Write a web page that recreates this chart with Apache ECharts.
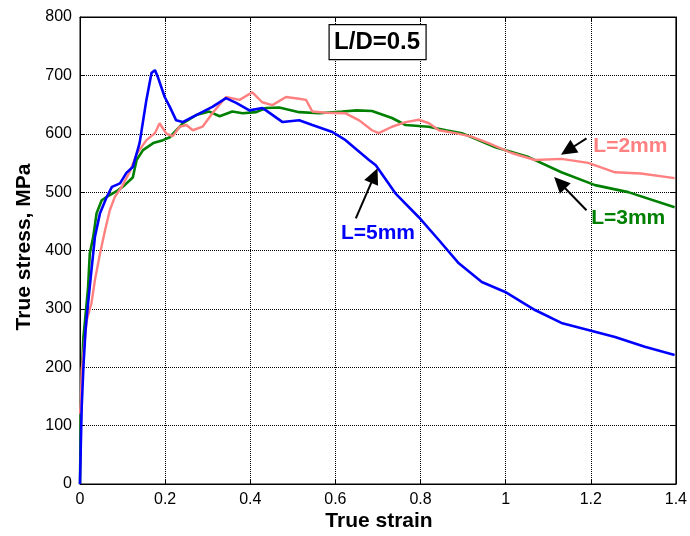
<!DOCTYPE html>
<html><head><meta charset="utf-8">
<script src="https://cdn.jsdelivr.net/npm/echarts/dist/echarts.min.js"></script>
<style>html,body{margin:0;padding:0;background:#fff}#c{width:690px;height:536px}</style>
</head><body><div id="c"></div>
<script>
// ---- data ----
const xTicks = [0, 0.2, 0.4, 0.6, 0.8, 1, 1.2, 1.4];
const yTicks = [0, 100, 200, 300, 400, 500, 600, 700, 800];

const strainL5 = [0,0.002,0.004,0.008,0.013,0.019,0.027,0.035,0.047,0.063,0.075,0.094,0.109,0.124,0.140,0.156,0.168,0.176,0.183,0.199,0.211,0.226,0.241,0.273,0.311,0.343,0.367,0.398,0.429,0.437,0.476,0.515,0.546,0.593,0.624,0.656,0.679,0.695,0.741,0.796,0.843,0.890,0.944,0.999,1.069,1.131,1.194,1.257,1.327,1.397];
const stressL5 = [0,70,132,200,264,310,367,423,464,492,509,515,533,543,584,658,704,709,697,663,646,623,620,632,646,661,653,640,644,640,620,623,615,603,589,569,555,546,498,457,418,378,346,329,298,276,264,252,235,221];

const strainL3 = [0,0.002,0.005,0.008,0.012,0.019,0.023,0.031,0.039,0.051,0.063,0.077,0.089,0.105,0.124,0.133,0.148,0.172,0.195,0.211,0.242,0.273,0.304,0.328,0.358,0.382,0.414,0.437,0.468,0.515,0.562,0.616,0.650,0.686,0.733,0.765,0.819,0.860,0.897,0.976,1.054,1.131,1.210,1.288,1.397];
const stressL3 = [0,130,200,252,281,337,395,423,464,486,492,498,503,512,525,555,572,584,589,594,618,632,638,630,638,635,637,644,645,637,635,638,640,639,627,615,612,606,601,577,560,534,512,500,474];

const strainL2 = [0,0.002,0.004,0.008,0.016,0.027,0.035,0.047,0.059,0.070,0.082,0.098,0.117,0.133,0.156,0.176,0.187,0.203,0.218,0.234,0.250,0.265,0.288,0.311,0.343,0.375,0.405,0.428,0.452,0.484,0.515,0.531,0.546,0.578,0.624,0.656,0.686,0.702,0.733,0.765,0.796,0.820,0.843,0.882,0.920,0.960,1.014,1.069,1.131,1.194,1.257,1.318,1.397];
const stressL2 = [120,139,195,224,281,310,349,395,435,469,492,509,535,565,589,601,618,600,596,612,615,606,612,635,663,658,671,654,649,663,660,658,638,636,635,623,606,601,612,620,624,618,606,601,595,584,567,555,557,550,534,532,524];

const seriesNames = ['L=2mm', 'L=3mm', 'L=5mm'];

function pairs(xs, ys) { return xs.map((x, i) => [x, ys[i]]); }

const chart = echarts.init(document.getElementById('c'));
const FONT = 'Liberation Sans, Arial, sans-serif';
const axisCommon = {
  type: 'value',
  axisLine: { show: true, onZero: false, lineStyle: { color: '#000', width: 1 } },
  axisTick: { show: true, inside: true, length: 5, lineStyle: { color: '#000' } },
};
chart.setOption({
  animation: false,
  backgroundColor: '#fff',
  grid: { left: 80, right: 11, top: 17, bottom: 52, show: true, borderColor: '#000', borderWidth: 1 },
  xAxis: [
    Object.assign({}, axisCommon, {
      min: xTicks[0], max: xTicks[xTicks.length - 1], interval: 0.2,
      axisLabel: { color: '#000', fontSize: 16, fontFamily: FONT, margin: 8 },
      splitLine: { show: true, lineStyle: { color: '#000', type: 'dotted', width: 1 } }
    }),
    Object.assign({}, axisCommon, {
      position: 'top', min: xTicks[0], max: xTicks[xTicks.length - 1], interval: 0.2,
      axisLabel: { show: false }, splitLine: { show: false }
    })
  ],
  yAxis: [
    Object.assign({}, axisCommon, {
      min: yTicks[0], max: yTicks[yTicks.length - 1], interval: 100,
      axisLabel: { color: '#000', fontSize: 16, fontFamily: FONT, margin: 8 },
      splitLine: { show: true, lineStyle: { color: '#000', type: 'dotted', width: 1 } }
    }),
    Object.assign({}, axisCommon, {
      position: 'right', min: yTicks[0], max: yTicks[yTicks.length - 1], interval: 100,
      axisLabel: { show: false }, splitLine: { show: false }
    })
  ],
  series: [
    { name: seriesNames[1], type: 'line', data: pairs(strainL3, stressL3), showSymbol: false, symbol: 'none',
      lineStyle: { color: '#008000', width: 2.6 }, z: 2 },
    { name: seriesNames[0], type: 'line', data: pairs(strainL2, stressL2), showSymbol: false, symbol: 'none',
      lineStyle: { color: '#ff8080', width: 2.4 }, z: 3 },
    { name: seriesNames[2], type: 'line', data: pairs(strainL5, stressL5), showSymbol: false, symbol: 'none',
      lineStyle: { color: '#0000ff', width: 2.6 }, z: 4 }
  ]
});

// ---- annotations (anchored in data coordinates) ----
const annotations = [
  { text: seriesNames[0], color: '#ff8080', label: [1.206, 579], tail: [1.190, 592], tip: [1.130, 564] },
  { text: seriesNames[1], color: '#008000', label: [1.201, 456], tail: [1.190, 469], tip: [1.114, 526] },
  { text: seriesNames[2], color: '#0000ff', label: [0.613, 430], tail: [0.648, 455], tip: [0.699, 541] }
];
const boxCenter = [0.698, 756];

const g = [];
annotations.forEach(a => {
  const lp = chart.convertToPixel({ gridIndex: 0 }, a.label);
  const t = chart.convertToPixel({ gridIndex: 0 }, a.tail);
  const p = chart.convertToPixel({ gridIndex: 0 }, a.tip);
  const dx = p[0] - t[0], dy = p[1] - t[1];
  const L = Math.sqrt(dx * dx + dy * dy);
  const ux = dx / L, uy = dy / L;
  const hl = 16, hw = 7.5;
  const bx = p[0] - ux * hl, by = p[1] - uy * hl;
  g.push({ type: 'line', shape: { x1: t[0], y1: t[1], x2: bx + ux * 2, y2: by + uy * 2 },
    style: { stroke: '#000', lineWidth: 2 }, z: 10 });
  g.push({ type: 'polygon', shape: { points: [[p[0], p[1]], [bx - uy * hw, by + ux * hw], [bx + uy * hw, by - ux * hw]] },
    style: { fill: '#000' }, z: 10 });
  g.push({ type: 'text', x: lp[0], y: lp[1], z: 10,
    style: { text: a.text, fill: a.color, font: 'bold 21px ' + FONT, textAlign: 'left', textVerticalAlign: 'middle' } });
});
const bc = chart.convertToPixel({ gridIndex: 0 }, boxCenter);
g.push({ type: 'rect', shape: { x: bc[0] - 48, y: bc[1] - 18, width: 97, height: 35 },
  style: { fill: '#fff', stroke: '#000', lineWidth: 1.2 }, z: 10 });
g.push({ type: 'text', x: bc[0], y: bc[1], z: 11,
  style: { text: 'L/D=0.5', fill: '#000', font: 'bold 24px ' + FONT, textAlign: 'center', textVerticalAlign: 'middle' } });
g.push({ type: 'text', x: 379, y: 521, z: 10,
  style: { text: 'True strain', fill: '#000', font: 'bold 21px ' + FONT, textAlign: 'center', textVerticalAlign: 'middle' } });
g.push({ type: 'text', x: 24, y: 247, rotation: Math.PI / 2, z: 10,
  style: { text: 'True stress, MPa', fill: '#000', font: 'bold 21px ' + FONT, textAlign: 'center', textVerticalAlign: 'middle' } });
chart.setOption({ graphic: g });
</script></body></html>
